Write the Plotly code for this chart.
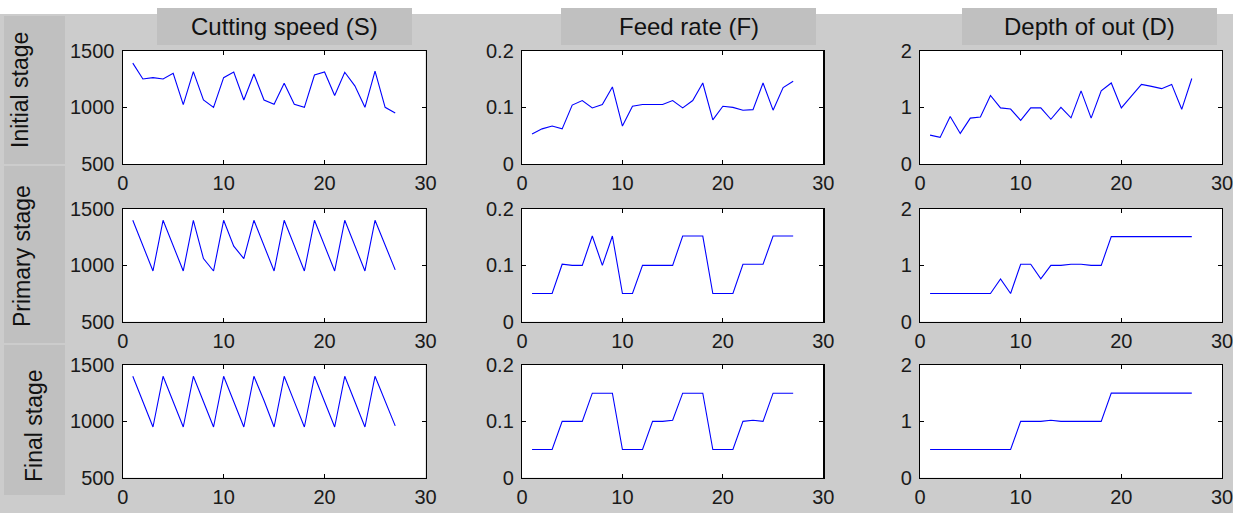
import plotly.graph_objects as go
from plotly.subplots import make_subplots

W, H = 1233, 513

# ---------------- data ----------------
runs = list(range(1, 28))

speed_initial = [1390, 1250, 1262, 1250, 1300, 1024, 1315, 1065, 1000, 1262,
                 1312, 1065, 1294, 1065, 1027, 1212, 1027, 1000, 1285, 1312,
                 1105, 1310, 1190, 1000, 1320, 1000, 950]
speed_primary = [1400, 1175, 950, 1400, 1175, 950, 1400, 1060, 950, 1400,
                 1170, 1060, 1400, 1175, 950, 1400, 1175, 950, 1400, 1175,
                 950, 1400, 1175, 950, 1400, 1175, 960]
speed_final = [1400, 1175, 950, 1400, 1175, 950, 1400, 1175, 950, 1400,
               1175, 950, 1400, 1185, 950, 1400, 1175, 950, 1400, 1175,
               950, 1400, 1175, 950, 1400, 1175, 960]

feed_initial = [0.053, 0.062, 0.067, 0.062, 0.104, 0.112, 0.099, 0.105, 0.136, 0.067,
                0.102, 0.105, 0.105, 0.105, 0.112, 0.099, 0.112, 0.143, 0.078, 0.102,
                0.100, 0.095, 0.096, 0.143, 0.095, 0.135, 0.146]
feed_primary = [0.05, 0.05, 0.05, 0.102, 0.10, 0.10, 0.152, 0.10, 0.152, 0.05,
                0.05, 0.10, 0.10, 0.10, 0.10, 0.152, 0.152, 0.152, 0.05, 0.05,
                0.05, 0.102, 0.102, 0.102, 0.152, 0.152, 0.152]
feed_final = [0.05, 0.05, 0.05, 0.10, 0.10, 0.10, 0.15, 0.15, 0.15, 0.05,
              0.05, 0.05, 0.10, 0.10, 0.102, 0.15, 0.15, 0.15, 0.05, 0.05,
              0.05, 0.10, 0.102, 0.10, 0.15, 0.15, 0.15]

depth_initial = [0.51, 0.47, 0.84, 0.54, 0.81, 0.83, 1.21, 0.99, 0.97, 0.77,
                 0.99, 0.99, 0.79, 1.0, 0.815, 1.29, 0.81, 1.29, 1.43, 0.99,
                 1.2, 1.405, 1.37, 1.33, 1.405, 0.965, 1.51]
depth_primary = [0.5, 0.5, 0.5, 0.5, 0.5, 0.5, 0.5, 0.76, 0.5, 1.02,
                 1.02, 0.76, 1.0, 1.0, 1.02, 1.02, 1.0, 1.0, 1.51, 1.51,
                 1.51, 1.51, 1.51, 1.51, 1.51, 1.51, 1.51]
depth_final = [0.5, 0.5, 0.5, 0.5, 0.5, 0.5, 0.5, 0.5, 0.5, 1.0,
               1.0, 1.0, 1.02, 1.0, 1.0, 1.0, 1.0, 1.0, 1.5, 1.5,
               1.5, 1.5, 1.5, 1.5, 1.5, 1.5, 1.5]

col_titles = ["Cutting speed (S)", "Feed rate (F)", "Depth of out (D)"]
row_titles = ["Initial stage", "Primary stage", "Final stage"]

grid = [
    [speed_initial, feed_initial, depth_initial],
    [speed_primary, feed_primary, depth_primary],
    [speed_final, feed_final, depth_final],
]
y_ranges = [[500, 1500], [0, 0.2], [0, 2]]
y_ticks = [[500, 1000, 1500], [0, 0.1, 0.2], [0, 1, 2]]
y_ticktext = [["500", "1000", "1500"], ["0", "0.1", "0.2"], ["0", "1", "2"]]
x_ticks = [0, 10, 20, 30]

# ---------------- layout geometry (pixels) ----------------
col_px = [(122.7, 425.5), (522, 823.3), (920, 1222)]
row_px = [(50.7, 164), (209, 321.7), (365, 477.7)]

FONT = "Liberation Sans, Arial, Helvetica, sans-serif"
GRAY = "#cccccc"
BOX = "#c0c0c0"

fig = make_subplots(rows=3, cols=3)

for r in range(3):
    for c in range(3):
        fig.add_trace(
            go.Scatter(x=runs, y=grid[r][c], mode="lines",
                       line=dict(color="#0000ff", width=1.1),
                       showlegend=False, hoverinfo="skip"),
            row=r + 1, col=c + 1)
        x0, x1 = col_px[c]
        y0, y1 = row_px[r]
        fig.update_xaxes(
            domain=[x0 / W, x1 / W], range=[0, 30], tickvals=x_ticks,
            ticks="inside", ticklen=4, tickcolor="black",
            showline=True, linecolor="black", linewidth=1.2, mirror="ticks",
            showgrid=False, zeroline=False, ticklabelstandoff=1,
            ticklabeloverflow="allow", automargin=False,
            tickfont=dict(family=FONT, size=20, color="#1a1a1a"),
            row=r + 1, col=c + 1)
        fig.update_yaxes(
            domain=[1 - y1 / H, 1 - y0 / H], range=y_ranges[c],
            tickvals=y_ticks[c], ticktext=y_ticktext[c],
            ticks="inside", ticklen=4, tickcolor="black",
            showline=True, linecolor="black", linewidth=1.2, mirror="ticks",
            showgrid=False, zeroline=False, ticklabelstandoff=3,
            ticklabeloverflow="allow", automargin=False,
            tickfont=dict(family=FONT, size=20, color="#1a1a1a"),
            row=r + 1, col=c + 1)

shapes = []
# white top band
shapes.append(dict(type="rect", xref="paper", yref="paper",
                   x0=0, x1=1, y0=1 - 14 / H, y1=1,
                   fillcolor="white", line=dict(width=0), layer="below"))
# header boxes
header_px = [(157, 412), (561, 816), (962, 1217)]
for (a, b) in header_px:
    shapes.append(dict(type="rect", xref="paper", yref="paper",
                       x0=a / W, x1=b / W, y0=1 - 45 / H, y1=1 - 8 / H,
                       fillcolor=BOX, line=dict(width=0), layer="below"))
# left strip boxes
strip_px = [(16, 164), (166, 343), (345, 495)]
for (a, b) in strip_px:
    shapes.append(dict(type="rect", xref="paper", yref="paper",
                       x0=4 / W, x1=65 / W, y0=1 - b / H, y1=1 - a / H,
                       fillcolor=BOX, line=dict(width=0), layer="below"))

annotations = []
header_centers = [284.5, 688.5, 1089.5]
for t, cx in zip(col_titles, header_centers):
    annotations.append(dict(text=t, x=cx / W, y=1 - 27 / H, xref="paper", yref="paper",
                            xanchor="center", yanchor="middle", showarrow=False,
                            font=dict(family=FONT, size=24, color="#111111")))
row_label_pos = [(20, 90), (22, 256), (34, 426)]
for t, (cx, cy) in zip(row_titles, row_label_pos):
    annotations.append(dict(text=t, x=cx / W, y=1 - cy / H, xref="paper", yref="paper",
                            xanchor="center", yanchor="middle", showarrow=False,
                            textangle=-90,
                            font=dict(family=FONT, size=23, color="#111111")))

fig.update_layout(
    width=W, height=H, margin=dict(l=0, r=0, t=0, b=0, pad=0),
    paper_bgcolor=GRAY, plot_bgcolor="white",
    shapes=shapes, annotations=annotations, showlegend=False,
)

fig.write_html(
    "out.html",
    config={"displayModeBar": False, "staticPlot": True},
    post_script=(
        "var s=document.createElement('style');"
        "s.innerHTML='html,body{margin:0!important;padding:0!important;overflow:hidden;background:#ffffff;}';"
        "document.head.appendChild(s);"
    ),
)
